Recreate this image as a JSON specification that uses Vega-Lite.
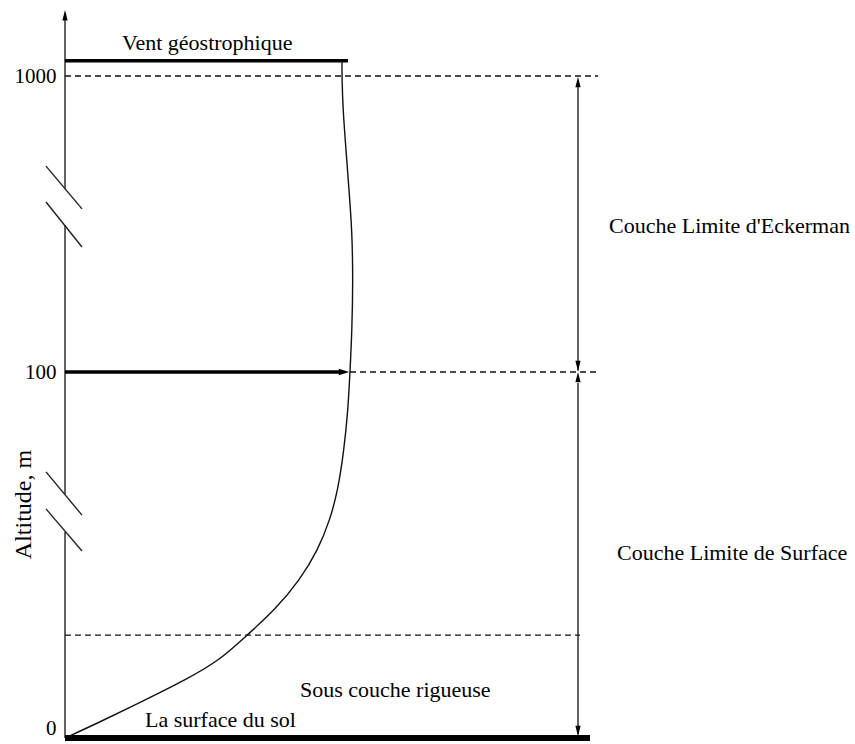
{
  "$schema": "https://vega.github.io/schema/vega-lite/v6.json",
  "width": 855,
  "height": 744,
  "padding": 0,
  "autosize": "none",
  "background": "white",
  "config": {"view": {"stroke": null}, "font": "Liberation Serif"},
  "datasets": {
    "thin": [
      {"x": 0, "x2": 0, "y": 0, "y2": 56.3},
      {"x": 0, "x2": 0, "y": 66.7, "y2": 547},
      {"x": 0, "x2": 0, "y": 656, "y2": 1190},
      {"x": -19, "x2": 17, "y": 726, "y2": 596},
      {"x": -19, "x2": 17, "y": 617, "y2": 480},
      {"x": -19, "x2": 17, "y": 72.7, "y2": 60.9},
      {"x": -19, "x2": 17, "y": 62.6, "y2": 51.1},
      {"x": 513, "x2": 513, "y": 985, "y2": 104},
      {"x": 513, "x2": 513, "y": 97, "y2": 1}
    ],
    "thick": [
      {"x": 0, "x2": 283, "y": 1046, "y2": 1046},
      {"x": 0, "x2": 278, "y": 100, "y2": 100}
    ],
    "ground": [
      {"x": 0, "x2": 525, "y": 0, "y2": 0}
    ],
    "dashed": [
      {"x": 0, "x2": 533, "y": 1000, "y2": 1000},
      {"x": 285, "x2": 533, "y": 100, "y2": 100},
      {"x": 0, "x2": 515, "y": 28.1, "y2": 28.1}
    ],
    "profile": [
      {"x": 0, "y": 0},
      {"x": 35, "y": 4.37},
      {"x": 80, "y": 10.4},
      {"x": 120, "y": 15.8},
      {"x": 155, "y": 21.3},
      {"x": 182, "y": 28.1},
      {"x": 210, "y": 35.0},
      {"x": 235, "y": 43.2},
      {"x": 253, "y": 51.4},
      {"x": 265, "y": 59.6},
      {"x": 273, "y": 67.8},
      {"x": 279, "y": 78.7},
      {"x": 283, "y": 89.6},
      {"x": 285, "y": 100},
      {"x": 287, "y": 228},
      {"x": 288, "y": 380},
      {"x": 287, "y": 532},
      {"x": 284, "y": 653},
      {"x": 281, "y": 775},
      {"x": 278, "y": 897},
      {"x": 277, "y": 988},
      {"x": 277, "y": 1046}
    ],
    "heads": [
      {"x": 0, "y": 1185, "dir": "up"},
      {"x": 513, "y": 982, "dir": "up"},
      {"x": 513, "y": 118, "dir": "down"},
      {"x": 513, "y": 98.6, "dir": "up"},
      {"x": 513, "y": 1.9, "dir": "down"},
      {"x": 279, "y": 100, "dir": "right"}
    ],
    "labels": [
      {"text": "Vent géostrophique", "x": 57, "y": 1079},
      {"text": "Couche Limite d'Eckerman", "x": 544, "y": 523},
      {"text": "Couche Limite de Surface", "x": 552, "y": 48.6},
      {"text": "Sous couche rigueuse", "x": 235, "y": 11.2},
      {"text": "La surface du sol", "x": 80, "y": 3.0}
    ]
  },
  "layer": [
    {
      "data": {"name": "thin"},
      "mark": {"type": "rule", "color": "#222222", "strokeWidth": 1.4},
      "encoding": {
        "x": {"field": "x", "type": "quantitative", "scale": {"domain": [-65, 790], "nice": false, "zero": false}, "axis": null},
        "x2": {"field": "x2"},
        "y": {
          "field": "y",
          "type": "quantitative",
          "scale": {"type": "linear", "domain": [0, 100, 1000], "range": [738, 372, 76], "nice": false, "zero": false},
          "axis": {
            "values": [0, 100, 1000],
            "format": "d",
            "domain": false,
            "ticks": false,
            "grid": false,
            "offset": -65,
            "labelFont": "Liberation Serif",
            "labelFontSize": 21,
            "labelColor": "black",
            "labelPadding": 9,
            "labelBaseline": {"condition": {"test": "datum.value === 0", "value": "bottom"}, "value": "middle"},
            "title": "Altitude, m",
            "titleFont": "Liberation Serif",
            "titleFontSize": 24,
            "titleFontWeight": "normal",
            "titleColor": "black",
            "titleX": -42,
            "titleY": 504,
            "titleAngle": -90,
            "titleAlign": "center",
            "titleBaseline": "middle"
          }
        },
        "y2": {"field": "y2"}
      }
    },
    {
      "data": {"name": "thick"},
      "mark": {"type": "rule", "color": "black", "strokeWidth": 3.5},
      "encoding": {
        "x": {"field": "x", "type": "quantitative"},
        "x2": {"field": "x2"},
        "y": {"field": "y", "type": "quantitative"},
        "y2": {"field": "y2"}
      }
    },
    {
      "data": {"name": "ground"},
      "mark": {"type": "rule", "color": "black", "strokeWidth": 6},
      "encoding": {
        "x": {"field": "x", "type": "quantitative"},
        "x2": {"field": "x2"},
        "y": {"field": "y", "type": "quantitative"},
        "y2": {"field": "y2"}
      }
    },
    {
      "data": {"name": "dashed"},
      "mark": {"type": "rule", "color": "#111111", "strokeWidth": 1.3, "strokeDash": [6, 4]},
      "encoding": {
        "x": {"field": "x", "type": "quantitative"},
        "x2": {"field": "x2"},
        "y": {"field": "y", "type": "quantitative"},
        "y2": {"field": "y2"}
      }
    },
    {
      "data": {"name": "profile"},
      "mark": {"type": "line", "color": "#111111", "strokeWidth": 1.4, "interpolate": "basis"},
      "encoding": {
        "x": {"field": "x", "type": "quantitative"},
        "y": {"field": "y", "type": "quantitative"},
        "order": {"field": "y", "type": "quantitative"}
      }
    },
    {
      "data": {"name": "heads"},
      "mark": {"type": "point", "filled": true, "opacity": 1, "color": "black", "size": 110},
      "encoding": {
        "x": {"field": "x", "type": "quantitative"},
        "y": {"field": "y", "type": "quantitative"},
        "shape": {
          "field": "dir",
          "type": "nominal",
          "scale": {"domain": ["up", "down", "right"], "range": ["M0,-1L0.5,1L-0.5,1Z", "M0,1L0.5,-1L-0.5,-1Z", "M1,0L-1,0.6L-1,-0.6Z"]},
          "legend": null
        }
      }
    },
    {
      "data": {"name": "labels"},
      "mark": {"type": "text", "align": "left", "baseline": "alphabetic", "font": "Liberation Serif", "fontSize": 22, "color": "black"},
      "encoding": {
        "x": {"field": "x", "type": "quantitative"},
        "y": {"field": "y", "type": "quantitative"},
        "text": {"field": "text"}
      }
    }
  ]
}
